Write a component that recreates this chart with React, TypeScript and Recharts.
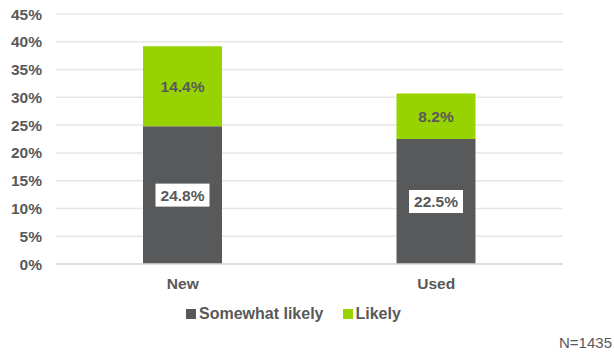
import { Bar, BarChart, CartesianGrid, LabelList, XAxis, YAxis } from "recharts";

const categories = ["New", "Used"];
const somewhatLikely = [24.8, 22.5];
const likely = [14.4, 8.2];
const yTicks = [0, 5, 10, 15, 20, 25, 30, 35, 40, 45];

const DARK = "#58595B";
const GREEN = "#97D300";
const TEXT = "#595959";
const FONT = "'Liberation Sans', Arial, Helvetica, sans-serif";

const rows = categories.map((c, i) => ({
  category: c,
  somewhat: somewhatLikely[i],
  likely: likely[i],
}));

const pct = (v: number) => `${v}%`;

function BoxLabel(props: any) {
  const { x, y, width, height, value } = props;
  const cx = x + width / 2;
  const cy = y + height / 2;
  return (
    <g>
      <rect x={cx - 27} y={cy - 11.5} width={54} height={23} fill="#fff" />
      <text x={cx} y={cy} dy="0.36em" textAnchor="middle" fill={TEXT} fontSize={15.5} fontWeight={700} fontFamily={FONT}>
        {pct(value)}
      </text>
    </g>
  );
}

function PlainLabel(props: any) {
  const { x, y, width, height, value } = props;
  return (
    <text x={x + width / 2} y={y + height / 2} dy="0.36em" textAnchor="middle" fill={TEXT} fontSize={15.5} fontWeight={700} fontFamily={FONT}>
      {pct(value)}
    </text>
  );
}

export default function App() {
  const tick = { fill: TEXT, fontSize: 15.5, fontWeight: 700, fontFamily: FONT };
  return (
    <div style={{ position: "absolute", left: 0, top: 0, width: 614, height: 354, background: "#fff", fontFamily: FONT }}>
      <BarChart width={614} height={354} data={rows} margin={{ top: 14, right: 51, left: 0, bottom: 60 }} barSize={79}>
        <CartesianGrid vertical={false} stroke="#E6E6E6" strokeWidth={1.5} />
        <XAxis dataKey="category" height={30} tick={tick} tickLine={false} tickSize={12} tickMargin={2} axisLine={{ stroke: "#DADADA", strokeWidth: 1.5 }} />
        <YAxis
          width={56}
          domain={[0, 45]}
          ticks={yTicks}
          tickFormatter={pct}
          tick={tick}
          tickLine={false}
          axisLine={false}
          tickSize={13}
          tickMargin={1}
        />
        <Bar dataKey="somewhat" stackId="a" fill={DARK} isAnimationActive={false}>
          <LabelList dataKey="somewhat" content={BoxLabel} />
        </Bar>
        <Bar dataKey="likely" stackId="a" fill={GREEN} isAnimationActive={false}>
          <LabelList dataKey="likely" content={PlainLabel} />
        </Bar>
      </BarChart>
      <div style={{ position: "absolute", left: 186, top: 305, display: "flex", alignItems: "center", fontSize: 16, fontWeight: 700, color: TEXT, whiteSpace: "nowrap" }}>
        <span style={{ display: "inline-block", width: 10, height: 10, background: DARK, marginRight: 3 }} />
        <span>Somewhat likely</span>
        <span style={{ display: "inline-block", width: 10, height: 10, background: GREEN, marginLeft: 19, marginRight: 3 }} />
        <span>Likely</span>
      </div>
      <div style={{ position: "absolute", right: 2, top: 334, fontSize: 15, color: TEXT, whiteSpace: "nowrap" }}>N=1435</div>
    </div>
  );
}
